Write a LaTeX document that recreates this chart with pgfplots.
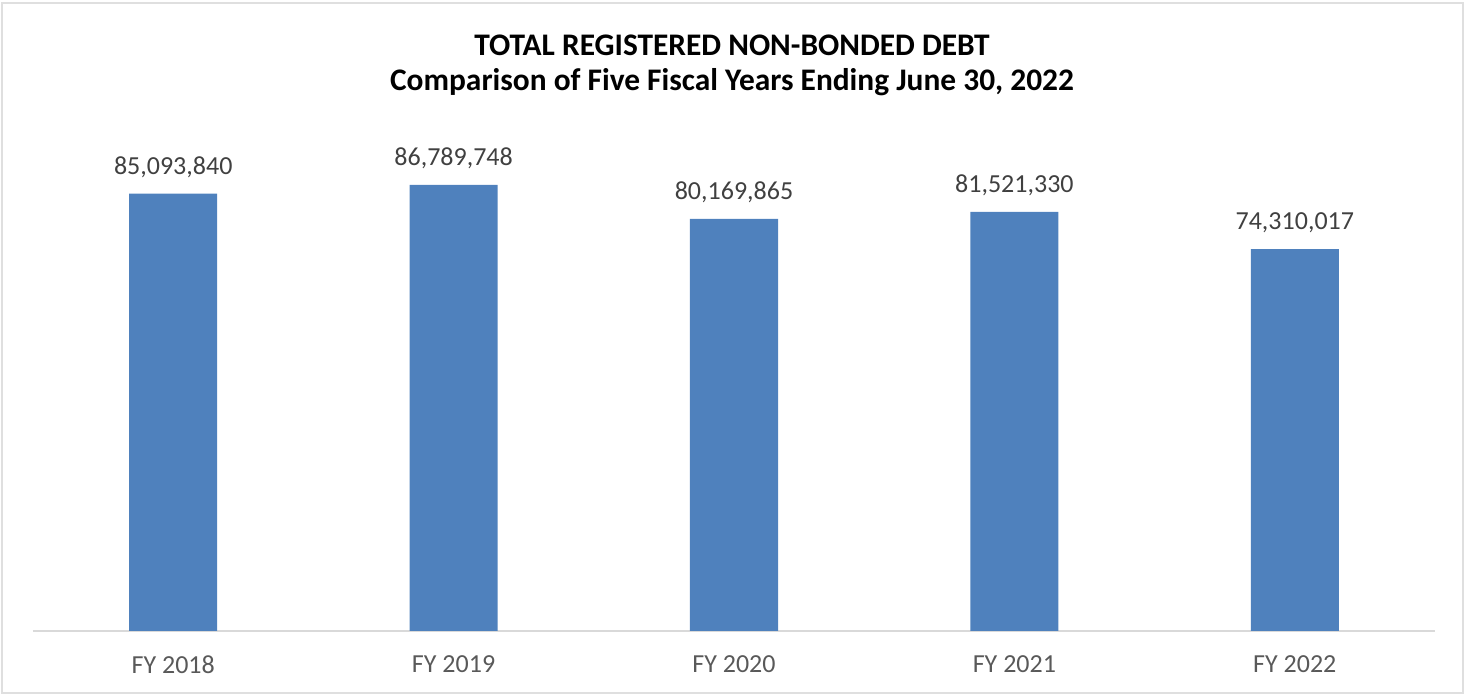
\documentclass[border=0pt]{standalone}
\usepackage{fontspec}
\setmainfont{Carlito}
\usepackage{pgfplots}
\usepackage{pgfplotstable}
\pgfplotsset{compat=1.18}
\definecolor{barblue}{HTML}{4F81BD}
\definecolor{lbl}{HTML}{404040}
\definecolor{tck}{HTML}{595959}

\pgfplotstableread{
x y label
0 85093840 85,093,840
1 86789748 86,789,748
2 80169865 80,169,865
3 81521330 81,521,330
4 74310017 74,310,017
}\debt

\begin{document}
\begin{tikzpicture}
% frame of the chart area (1px = 0.5pt)
\draw[gray!25, line width=1pt] (1pt,1pt) rectangle (731.5pt,346pt);
\path[use as bounding box] (0pt,0pt) rectangle (732pt,347.5pt);
\node[font=\bfseries\fontsize{15.7}{18}\selectfont, text=black] at (366pt,325pt) {TOTAL REGISTERED NON-BONDED DEBT};
\node[font=\bfseries\fontsize{15.7}{18}\selectfont, text=black] at (366pt,306.5pt) {Comparison of Five Fiscal Years Ending June 30, 2022};
\begin{axis}[
    at={(16.5pt,32pt)},
    anchor=south west,
    scale only axis,
    width=701pt,
    height=257pt,
    xmin=-0.5, xmax=4.5,
    ymin=0, ymax=100000000,
    axis y line=none,
    axis x line*=bottom,
    x axis line style={gray!30, line width=0.8pt, -},
    xtick=data,
    xticklabels={FY 2018, FY 2019, FY 2020, FY 2021, FY 2022},
    major tick length=0pt,
    xticklabel style={font=\fontsize{13}{15}\selectfont, text=tck, yshift=-9pt},
    clip=false,
]
\addplot[ybar, bar width=44pt, fill=barblue, draw=none,
  nodes near coords,
  point meta=explicit symbolic,
  every node near coord/.append style={font=\fontsize{13}{15}\selectfont, text=lbl, anchor=south, yshift=4.5pt},
] table[x=x, y=y, meta=label] {\debt};
\end{axis}
\end{tikzpicture}
\end{document}
